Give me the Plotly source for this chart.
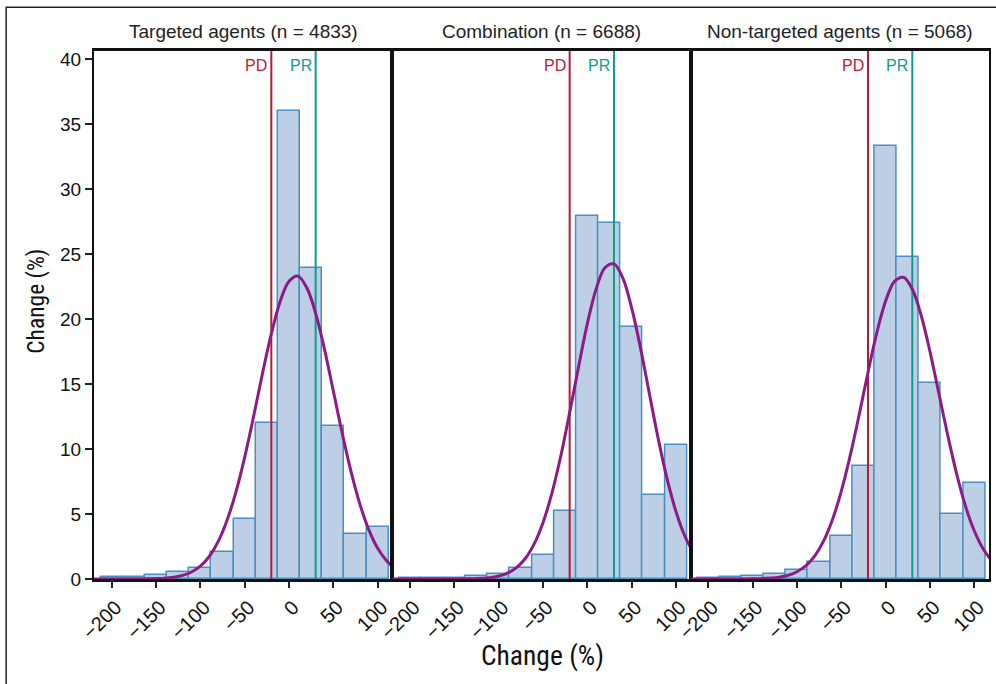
import plotly.graph_objects as go

# ---------------- data ----------------
bin_centers = [-200, -175, -150, -125, -100, -75, -50, -25, 0, 25, 50, 75, 100]
bin_width = 25

panel_titles = ["Targeted agents (n = 4833)", "Combination (n = 6688)", "Non-targeted agents (n = 5068)"]

targeted = [0.18, 0.18, 0.28, 0.56, 0.87, 2.05, 4.6, 12.0, 36.0, 23.9, 11.75, 3.45, 4.0]
combination = [0.05, 0.1, 0.1, 0.25, 0.36, 0.85, 1.87, 5.2, 27.9, 27.4, 19.4, 6.5, 10.3]
nontargeted = [0.1, 0.15, 0.25, 0.35, 0.7, 1.3, 3.3, 8.7, 33.3, 24.8, 15.1, 5.0, 7.4]

# fitted normal curve, every 10 units
curve_x = [-220, -210, -200, -190, -180, -170, -160, -150, -140, -130, -120, -110, -100,
           -90, -80, -70, -60, -50, -40, -30, -20, -10, 0, 10, 20, 30, 40, 50, 60, 70,
           80, 90, 100, 110, 120]
curve_targeted = [0.0, 0.0, 0.0, 0.0, 0.0, 0.0, 0.01, 0.03, 0.06, 0.14, 0.28, 0.54, 0.99,
                  1.73, 2.87, 4.50, 6.67, 9.38, 12.5, 15.8, 18.85, 21.35, 22.9, 23.3, 22.4,
                  20.44, 17.67, 14.45, 11.2, 8.24, 5.74, 3.78, 2.36, 1.40, 0.79]
curve_combination = [0.0, 0.0, 0.0, 0.0, 0.0, 0.0, 0.0, 0.0, 0.01, 0.02, 0.05, 0.10, 0.23,
                     0.46, 0.88, 1.58, 2.70, 4.35, 6.60, 9.46, 12.8, 16.3, 19.66, 22.34, 23.96,
                     24.24, 23.14, 20.84, 17.74, 14.23, 10.76, 7.68, 5.17, 3.29, 1.98]
curve_nontargeted = [0.0, 0.0, 0.0, 0.0, 0.0, 0.0, 0.005, 0.01, 0.03, 0.07, 0.14, 0.29, 0.56,
                     1.02, 1.78, 2.93, 4.58, 6.78, 9.51, 12.62, 15.89, 18.95, 21.40, 22.90, 23.21,
                     22.29, 20.27, 17.47, 14.26, 11.04, 8.09, 5.61, 3.69, 2.30, 1.36]

pd_threshold = -20
pr_threshold = 30

x_ticks = [-200, -150, -100, -50, 0, 50, 100]
x_tick_text = ["\u2212200", "\u2212150", "\u2212100", "\u221250", "0", "50", "100"]
y_ticks = [0, 5, 10, 15, 20, 25, 30, 35, 40]
x_range = [-220, 116.5]
y_range = [0, 40.62]

axis_title = "Change (%)"

# ---------------- styles ----------------
BAR_FILL = "#bdcfe4"
BAR_LINE = "#4b8fc0"
CURVE = "#8c1b86"
PD_COLOR = "#b61b36"
PR_COLOR = "#0f9b8e"
FONT = "Liberation Sans, Arial, Helvetica, sans-serif"
NARROW = "Liberation Sans Narrow, Arial Narrow, Roboto Condensed, Liberation Sans, sans-serif"

series = [targeted, combination, nontargeted]
curves = [curve_targeted, curve_combination, curve_nontargeted]

fig = go.Figure()
domains = [[0, 1 / 3], [1 / 3, 2 / 3], [2 / 3, 1]]

for i in range(3):
    xa = "x" if i == 0 else f"x{i+1}"
    ya = "y" if i == 0 else f"y{i+1}"
    fig.add_trace(go.Bar(
        x=bin_centers, y=series[i], width=bin_width,
        marker=dict(color=BAR_FILL, line=dict(color=BAR_LINE, width=1.5)),
        xaxis=xa, yaxis=ya, showlegend=False, hoverinfo="skip"))
    for thr, col in [(pd_threshold, PD_COLOR), (pr_threshold, PR_COLOR)]:
        fig.add_trace(go.Scatter(
            x=[thr, thr], y=y_range, mode="lines",
            line=dict(color=col, width=2), xaxis=xa, yaxis=ya,
            showlegend=False, hoverinfo="skip", cliponaxis=True))
    fig.add_trace(go.Scatter(
        x=curve_x, y=curves[i], mode="lines",
        line=dict(color=CURVE, width=3, shape="spline", smoothing=1.0),
        xaxis=xa, yaxis=ya, showlegend=False, hoverinfo="skip"))

    xkey = "xaxis" if i == 0 else f"xaxis{i+1}"
    ykey = "yaxis" if i == 0 else f"yaxis{i+1}"
    fig.layout[xkey] = dict(
        domain=domains[i], anchor=ya, range=x_range,
        tickmode="array", tickvals=x_ticks, ticktext=x_tick_text,
        tickangle=-45, ticks="outside", ticklen=6, tickwidth=1.5, tickcolor="#222",
        ticklabelshift=4,
        tickfont=dict(family=FONT, size=20, color="#111"),
        showline=True, linecolor="#111", linewidth=2.5, mirror=True,
        showgrid=False, zeroline=False, fixedrange=True)
    fig.layout[ykey] = dict(
        domain=[0, 1], anchor=xa, range=y_range,
        tickmode="array", tickvals=y_ticks,
        ticks="outside" if i == 0 else "", ticklen=7, tickwidth=1.5, tickcolor="#222",
        showticklabels=(i == 0),
        tickfont=dict(family=FONT, size=19, color="#111"),
        showline=True, linecolor="#111", linewidth=2, mirror=True,
        showgrid=False, zeroline=False, fixedrange=True)

    # panel title
    fig.add_annotation(
        text=panel_titles[i], xref=f"{xa} domain", yref="paper",
        x=0.5, y=1, xanchor="center", yanchor="bottom", yshift=7, showarrow=False,
        font=dict(family=FONT, size=19, color="#222"))
    # PD / PR labels
    for thr, col, lab in [(pd_threshold, PD_COLOR, "PD"), (pr_threshold, PR_COLOR, "PR")]:
        fig.add_annotation(
            text=lab, xref=xa, yref="paper", x=thr, y=1,
            xanchor="right", yanchor="top", xshift=-2, yshift=-4, showarrow=False,
            font=dict(family=FONT, size=16, color=col))

# axis titles
fig.add_annotation(text=axis_title, xref="paper", yref="paper", x=0.5006, y=-0.145,
                   xanchor="center", yanchor="middle", showarrow=False,
                   font=dict(family=NARROW, size=27.5, color="#111"))
fig.add_annotation(text=axis_title, xref="paper", yref="paper", x=-0.0645, y=0.5256,
                   xanchor="center", yanchor="middle", textangle=-90, showarrow=False,
                   font=dict(family=NARROW, size=23.5, color="#111"))

# outer frame
fig.add_shape(type="rect", xref="paper", yref="paper",
              x0=-0.0981, x1=1.02, y0=-0.25, y1=1.0828,
              line=dict(color="#222", width=1.5), fillcolor="rgba(0,0,0,0)", layer="below")

fig.update_layout(
    width=996, height=684,
    margin=dict(l=94, r=5, t=51, b=105),
    paper_bgcolor="white", plot_bgcolor="white",
    bargap=0, showlegend=False,
    font=dict(family=FONT, color="#111"))

fig.write_html("out.html")
